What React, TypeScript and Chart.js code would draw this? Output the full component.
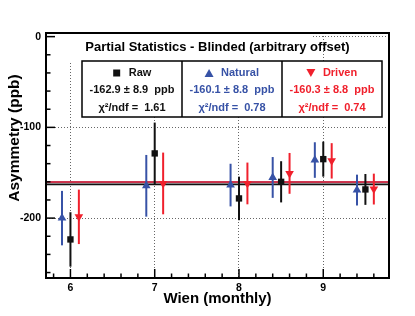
import React, { useEffect, useRef } from "react";
import { Chart, registerables } from "chart.js";

Chart.register(...registerables);

// ---- data ----
const rawX = [6, 7, 8, 8.5, 9, 9.5];
const rawY = [-223.5, -128.7, -178.3, -160, -135, -168.4];
const rawErr = [30, 34, 24, 22.7, 19.3, 17];

const naturalX = [5.9, 6.9, 7.9, 8.4, 8.9, 9.4];
const naturalY = [-200, -164.4, -163.6, -155.2, -136, -169.1];
const naturalErr = [30, 34, 23.5, 22.5, 19.6, 17];

const drivenX = [6.1, 7.1, 8.1, 8.6, 9.1, 9.6];
const drivenY = [-198.6, -161.8, -161.8, -150.7, -136.9, -168];
const drivenErr = [30, 34, 23, 22.5, 19.5, 17];

const fitValues = [-162.9, -160.1, -160.3]; // raw, natural, driven
const fitErrors = [8.9, 8.8, 8.8];
const chi2ndf = ["1.61", "0.78", "0.74"];
const seriesNames = ["Raw", "Natural", "Driven"];

const xTicks = [6, 7, 8, 9];
const yTicks = [-200, -100, 0];

const BLACK = "#111111";
const BLUE = "#3752a6";
const RED = "#f0202c";
const colors = [BLACK, BLUE, RED];
const FONT = "'Liberation Sans', Arial, sans-serif";

const X_MIN = 5.71;
const X_MAX = 9.78;
const Y_MIN = -266;
const Y_MAX = 4;

const errorBarsPlugin = {
  id: "errorBars",
  beforeDatasetsDraw(chart: any) {
    const { ctx, chartArea, scales } = chart;
    const y = scales.y;
    ctx.save();
    ctx.beginPath();
    ctx.rect(chartArea.left, chartArea.top, chartArea.right - chartArea.left, chartArea.bottom - chartArea.top);
    ctx.clip();
    // fit band + lines
    const yRaw = y.getPixelForValue(fitValues[0]);
    const yDrv = y.getPixelForValue(fitValues[2]);
    ctx.fillStyle = "#a8a8a8";
    ctx.fillRect(chartArea.left, Math.min(yRaw, yDrv), chartArea.right - chartArea.left, Math.abs(yRaw - yDrv));
    const lines = [
      [fitValues[1], BLUE],
      [fitValues[0], BLACK],
      [fitValues[2], RED],
    ];
    ctx.lineWidth = 1.5;
    for (const [v, c] of lines as any) {
      const py = y.getPixelForValue(v);
      ctx.strokeStyle = c;
      ctx.beginPath();
      ctx.moveTo(chartArea.left, py);
      ctx.lineTo(chartArea.right, py);
      ctx.stroke();
    }
    // error bars
    chart.data.datasets.forEach((ds: any, i: number) => {
      const meta = chart.getDatasetMeta(i);
      ctx.strokeStyle = ds.borderColor;
      ctx.lineWidth = 2;
      meta.data.forEach((pt: any, j: number) => {
        const v = ds.data[j].y;
        const e = ds.errors[j];
        const y1 = y.getPixelForValue(v + e);
        const y2 = y.getPixelForValue(v - e);
        ctx.beginPath();
        ctx.moveTo(pt.x, y1);
        ctx.lineTo(pt.x, y2);
        ctx.stroke();
      });
    });
    ctx.restore();
  },
  afterDatasetsDraw(chart: any) {
    const { ctx, chartArea, scales } = chart;
    const { left, right, top, bottom } = chartArea;
    ctx.save();
    // title pave
    ctx.fillStyle = "#ffffff";
    ctx.fillRect(left + 1, top + 1, 311 - left, 61 - top);
    ctx.fillStyle = "#000";
    ctx.font = `bold 13px ${FONT}`;
    ctx.textAlign = "center";
    ctx.textBaseline = "middle";
    ctx.fillText("Partial Statistics - Blinded (arbitrary offset)", (left + right) / 2, 47);

    // table
    const tx0 = 82, tx1 = 382, ty0 = 61, ty1 = 117;
    ctx.fillStyle = "#ffffff";
    ctx.fillRect(tx0, ty0, tx1 - tx0, ty1 - ty0);
    ctx.strokeStyle = "#000";
    ctx.lineWidth = 1.5;
    ctx.strokeRect(tx0, ty0, tx1 - tx0, ty1 - ty0);
    const colW = (tx1 - tx0) / 3;
    for (let k = 1; k < 3; k++) {
      ctx.beginPath();
      ctx.moveTo(tx0 + colW * k, ty0);
      ctx.lineTo(tx0 + colW * k, ty1);
      ctx.stroke();
    }
    for (let k = 0; k < 3; k++) {
      const cx = tx0 + colW * (k + 0.5);
      ctx.fillStyle = colors[k];
      ctx.font = `bold 11px ${FONT}`;
      ctx.textAlign = "left";
      const name = seriesNames[k];
      const nw = ctx.measureText(name).width;
      const total = 8 + 8 + nw;
      const mx = cx - total / 2 + 4;
      const my = 73;
      ctx.beginPath();
      if (k === 0) {
        ctx.rect(mx - 3.5, my - 3.5, 7, 7);
      } else if (k === 1) {
        ctx.moveTo(mx - 4.5, my + 4);
        ctx.lineTo(mx + 4.5, my + 4);
        ctx.lineTo(mx, my - 4);
        ctx.closePath();
      } else {
        ctx.moveTo(mx - 4.5, my - 4);
        ctx.lineTo(mx + 4.5, my - 4);
        ctx.lineTo(mx, my + 4);
        ctx.closePath();
      }
      ctx.fill();
      ctx.fillText(name, mx + 12, my);
      ctx.textAlign = "center";
      ctx.fillText(`${fitValues[k].toFixed(1)} ± ${fitErrors[k].toFixed(1)}  ppb`, cx, 90);
      ctx.fillText(`χ²/ndf =  ${chi2ndf[k]}`, cx, 108);
    }

    // frame
    ctx.strokeStyle = "#000";
    ctx.lineWidth = 2;
    ctx.strokeRect(left, top, right - left, bottom - top);

    // inward ticks
    ctx.lineWidth = 1.5;
    const xs = scales.x, ys = scales.y;
    for (let v = 5.8; v <= X_MAX + 1e-6; v += 0.2) {
      const r = Math.round(v * 10) / 10;
      const px = xs.getPixelForValue(r);
      const major = Math.abs(r - Math.round(r)) < 1e-6;
      ctx.beginPath();
      ctx.moveTo(px, bottom);
      ctx.lineTo(px, bottom - (major ? 9 : 4.5));
      ctx.stroke();
    }
    for (let v = -260; v <= Y_MAX + 1e-6; v += 20) {
      const py = ys.getPixelForValue(v);
      const major = v % 100 === 0;
      ctx.beginPath();
      ctx.moveTo(left, py);
      ctx.lineTo(left + (major ? 9 : 4.5), py);
      ctx.stroke();
    }

    // axis titles
    ctx.fillStyle = "#000";
    ctx.font = `bold 15px ${FONT}`;
    ctx.textAlign = "center";
    ctx.textBaseline = "middle";
    ctx.fillText("Wien (monthly)", (left + right) / 2, 299);
    ctx.save();
    ctx.translate(15, 138);
    ctx.rotate(-Math.PI / 2);
    ctx.font = `bold 15.5px ${FONT}`;
    ctx.fillText("Asymmetry (ppb)", 0, 0);
    ctx.restore();
    ctx.restore();
  },
};

export default function App() {
  const ref = useRef<HTMLCanvasElement | null>(null);
  useEffect(() => {
    if (!ref.current) return;
    const mk = (xs: number[], ys: number[]) => xs.map((x, i) => ({ x, y: ys[i] }));
    const chart = new Chart(ref.current, {
      type: "scatter",
      data: {
        datasets: [
          {
            label: "Natural",
            data: mk(naturalX, naturalY),
            errors: naturalErr,
            borderColor: BLUE,
            backgroundColor: BLUE,
            pointStyle: "triangle",
            pointRadius: 5,
            borderWidth: 0,
          } as any,
          {
            label: "Driven",
            data: mk(drivenX, drivenY),
            errors: drivenErr,
            borderColor: RED,
            backgroundColor: RED,
            pointStyle: "triangle",
            rotation: 180,
            pointRadius: 5,
            borderWidth: 0,
          } as any,
          {
            label: "Raw",
            data: mk(rawX, rawY),
            errors: rawErr,
            borderColor: BLACK,
            backgroundColor: BLACK,
            pointStyle: "rect",
            pointRadius: 4.5,
            borderWidth: 0,
          } as any,
        ],
      },
      options: {
        animation: false,
        responsive: false,
        layout: { padding: { left: 0, top: 33, right: 26, bottom: 0 } },
        plugins: { legend: { display: false }, tooltip: { enabled: false }, title: { display: false } },
        scales: {
          x: {
            type: "linear",
            min: X_MIN,
            max: X_MAX,
            afterBuildTicks: (s: any) => {
              s.ticks = xTicks.map((v) => ({ value: v }));
            },
            afterFit: (s: any) => {
              s.height = 38;
            },
            grid: { color: "#666", lineWidth: 1, drawTicks: false },
            border: { display: false, dash: [1, 2] },
            ticks: {
              color: "#000",
              font: { family: FONT, size: 10.5, weight: "bold" },
              padding: 4,
              maxRotation: 0,
              callback: (v: any) => String(v),
            },
          },
          y: {
            type: "linear",
            min: Y_MIN,
            max: Y_MAX,
            afterBuildTicks: (s: any) => {
              s.ticks = yTicks.map((v) => ({ value: v }));
            },
            afterFit: (s: any) => {
              s.width = 46;
            },
            grid: { color: "#666", lineWidth: 1, drawTicks: false },
            border: { display: false, dash: [1, 2] },
            ticks: {
              color: "#000",
              font: { family: FONT, size: 10.5, weight: "bold" },
              padding: 5,
              callback: (v: any) => String(v),
            },
          },
        },
      } as any,
      plugins: [errorBarsPlugin],
    });
    return () => chart.destroy();
  }, []);
  return (
    <div style={{ position: "absolute", left: 0, top: 0, width: 415, height: 316, background: "#fff" }}>
      <canvas ref={ref} width={415} height={316} style={{ width: 415, height: 316 }} />
    </div>
  );
}
